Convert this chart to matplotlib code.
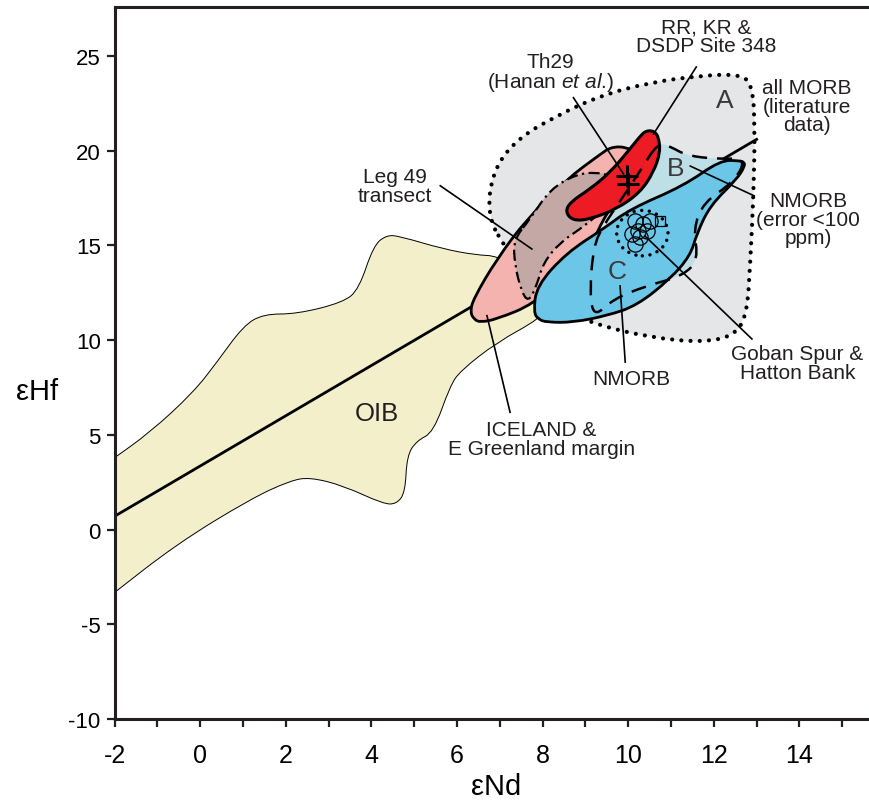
import matplotlib
matplotlib.use('Agg')
import matplotlib.pyplot as plt
from matplotlib.patches import PathPatch, Ellipse
from matplotlib.path import Path

plt.rcParams['font.family'] = ['Liberation Sans', 'DejaVu Sans']
plt.rcParams['axes.unicode_minus'] = False
plt.rcParams['mathtext.fontset'] = 'custom'
plt.rcParams['mathtext.rm'] = 'Liberation Sans'
plt.rcParams['mathtext.it'] = 'Liberation Sans:italic'

# outlines of the fields, (eNd, eHf)
oib_nd = [-2.1, -1.17, -0.16, 0.39, 1.01, 1.48, 2.26, 3.35, 3.71, 4.05, 4.36, 4.67, 5.68, 6.46, 6.95,
          7.6, 8.2, 7.95, 6.93, 6.08, 5.84, 5.45, 5.06, 4.83, 4.79, 4.59, 4.28, 3.35, 2.57, 2.1, 1.17, -0.55,
          -2.1, -3.0, -3.0]
oib_hf = [3.63, 5.13, 7.24, 8.83, 10.76, 11.38, 11.38, 12.0, 12.7, 15.0, 15.55, 15.48, 14.81, 14.49, 14.45,
          13.5, 12.0, 11.15, 9.88, 8.38, 7.59, 5.13, 4.69, 3.9, 1.96, 1.35, 1.35, 2.31, 2.76, 2.58, 1.61, -0.77,
          -3.5, -5.08, 2.19]

morb_nd = [6.7, 6.85, 7.4, 8.33, 9.34, 10.5, 11.68, 12.6, 12.9, 12.96, 12.93, 12.85, 12.77, 12.46,
           11.68, 10.51, 9.34, 8.8, 8.0, 7.08]
morb_hf = [16.7, 19.0, 20.62, 21.85, 22.9, 23.6, 23.96, 24.05, 23.5, 21.3, 17.8, 14.0, 11.29, 10.2,
           9.88, 10.15, 10.76, 11.29, 12.5, 14.98]

ice_nd = [6.31, 6.4, 6.54, 6.93, 7.79, 8.6, 9.2, 9.4, 9.6, 10.3, 10.15, 9.95, 9.6, 9.34, 8.57, 7.63, 6.93, 6.38]
ice_hf = [11.47, 11.1, 10.94, 11.11, 11.9, 13.6, 15.3, 16.3, 17.0, 18.8, 19.9, 20.2, 20.2, 19.8, 18.51, 16.39, 14.28, 12.17]

leg_nd = [7.32, 7.35, 7.5, 7.67, 7.86, 8.02, 8.41, 8.88, 9.27, 9.6, 9.7, 9.58, 9.27, 8.8, 8.18, 7.71]
leg_hf = [15.3, 14.0, 12.6, 12.0, 12.87, 14.1, 15.16, 15.87, 16.57, 17.2, 18.5, 18.68, 18.86, 18.77, 17.98, 16.4]

b_nd = [10.7, 11.0, 11.37, 12.07, 12.77, 12.46, 11.76, 11.52, 11.64, 11.29, 10.43, 9.65, 9.2,
        9.1, 9.19, 9.42, 9.8, 10.3]
b_hf = [20.45, 20.2, 19.74, 19.56, 19.6, 18.33, 17.28, 15.87, 14.28, 13.4, 12.87, 12.17, 11.2,
        12.5, 14.98, 16.04, 17.3, 19.0]

c_nd = [7.79, 7.9, 8.1, 8.72, 9.5, 10.2, 10.98, 11.45, 11.6, 11.91, 12.54, 12.73, 12.7, 12.61, 12.15, 11.3,
        10.04, 9.42, 8.57, 7.86]
c_hf = [11.47, 11.1, 10.94, 10.94, 11.29, 11.82, 13.23, 14.46, 15.6, 17.1, 18.5, 19.21, 19.4, 19.47, 19.5, 18.15,
        16.92, 15.87, 14.63, 12.87]

red_nd = [10.51, 10.62, 10.71, 10.75, 10.59, 10.28, 9.73, 9.11, 8.72, 8.53, 8.64, 9.11, 9.58, 10.04, 10.32, 10.42]
red_hf = [21.06, 21.0, 20.71, 19.92, 18.86, 17.8, 16.92, 16.39, 16.3, 16.75, 17.28, 17.98, 18.86, 20.09, 20.88, 21.03]

# mantle array
array_nd = [-2, 13]
array_hf = [0.7, 20.6]

# Th29 crosses
th29_nd = [9.97, 10.0]
th29_hf = [18.68, 18.24]

# Goban Spur & Hatton Bank samples
gob_nd = [10.16, 10.35, 10.24, 10.08, 10.28, 10.16, 10.43, 10.51]
gob_hf = [16.3, 16.13, 15.78, 15.6, 15.43, 15.07, 15.78, 16.3]
sq_nd = [10.75]
sq_hf = [16.3]

xticks = list(range(-2, 15, 2))
yticks = list(range(-10, 26, 5))


def smooth(ax, xs, ys, **kw):
    # closed outline drawn as quadratic bezier through edge midpoints
    pts = list(zip(xs, ys))
    n = len(pts)
    mids = [((pts[i][0] + pts[(i + 1) % n][0]) / 2, (pts[i][1] + pts[(i + 1) % n][1]) / 2) for i in range(n)]
    verts = [mids[-1]]
    codes = [Path.MOVETO]
    for i in range(n):
        verts += [pts[i], mids[i]]
        codes += [Path.CURVE3, Path.CURVE3]
    verts.append(mids[-1])
    codes.append(Path.CLOSEPOLY)
    p = PathPatch(Path(verts, codes), joinstyle='round', **kw)
    ax.add_patch(p)
    return p


def main():
    fig = plt.figure(figsize=(8.69, 8.03), dpi=100)
    ax = fig.add_axes([0.1318, 0.1034, 0.8783, 0.8867])
    ax.set_xlim(-2, 15.83)
    ax.set_ylim(-10, 27.59)

    smooth(ax, oib_nd, oib_hf, facecolor='#F3EFCB', edgecolor='black', lw=0.7, zorder=1)
    smooth(ax, morb_nd, morb_hf, facecolor='#E5E6E8', edgecolor='none', zorder=1.5)
    smooth(ax, morb_nd, morb_hf, facecolor='none', edgecolor='black', lw=3,
           linestyle=(0, (0.01, 2.2)), capstyle='round', zorder=1.6)
    ax.plot(array_nd, array_hf, color='black', lw=2, zorder=2)
    smooth(ax, ice_nd, ice_hf, facecolor='#F4B3AE', edgecolor='black', lw=2, zorder=3)
    smooth(ax, leg_nd, leg_hf, facecolor='#C4A8A6', edgecolor='black', lw=1.6,
           linestyle=(0, (5, 2, 1, 2)), zorder=4)
    smooth(ax, b_nd, b_hf, facecolor='#BFDFE7', edgecolor='none', zorder=5)
    smooth(ax, c_nd, c_hf, facecolor='#6BC6E8', edgecolor='black', lw=2, zorder=6)
    smooth(ax, red_nd, red_hf, facecolor='#ED1C24', edgecolor='black', lw=2.2, zorder=7)
    smooth(ax, b_nd, b_hf, facecolor='none', edgecolor='black', lw=1.8,
           linestyle=(0, (6, 4)), zorder=8)

    ax.plot(th29_nd, th29_hf, '+', color='black', ms=16, mew=2.2, zorder=9)
    ax.plot(gob_nd, gob_hf, 'o', mfc='none', mec='black', ms=11, mew=0.9, zorder=9)
    ax.plot(sq_nd, sq_hf, 's', mfc='none', mec='black', ms=7, mew=0.9, zorder=9)
    ax.add_patch(Ellipse((10.33, 15.65), 1.2, 2.4, fill=False, edgecolor='black', lw=2.5,
                         linestyle=(0, (0.01, 2.2)), capstyle='round', zorder=9))

    # pointer lines
    ptr = [((11.59, 24.42), (10.59, 20.88)),
           ((8.72, 22.8), (9.89, 18.77)),
           ((11.45, 19.19), (12.94, 17.62)),
           ((5.61, 18.15), (7.75, 14.81)),
           ((6.70, 11.29), (7.24, 6.19)),
           ((9.93, 8.84), (9.81, 12.86)),
           ((10.39, 15.5), (12.89, 10.06))]
    for a, b in ptr:
        ax.plot([a[0], b[0]], [a[1], b[1]], color='black', lw=1.2, zorder=10)

    fs = 15
    kw = dict(ha='center', va='center', fontsize=fs, linespacing=0.95, color='#231F20', zorder=11)
    ax.text(11.83, 26.06, 'RR, KR &\nDSDP Site 348', **kw)
    ax.text(8.18, 24.72, 'Th29', **kw)
    ax.text(8.18, 23.65, '(Hanan $\\mathit{et\\ al}$.)', **kw)
    ax.text(14.18, 22.36, 'all MORB\n(literature\ndata)', **kw)
    ax.text(14.2, 16.39, 'NMORB\n(error <100\nppm)', **kw)
    ax.text(4.55, 18.14, 'Leg 49\ntransect', **kw)
    ax.text(7.97, 4.78, 'ICELAND &\nE Greenland margin', **kw)
    ax.text(10.07, 7.95, 'NMORB', **kw)
    ax.text(13.95, 8.79, 'Goban Spur &\nHatton Bank', **kw)
    ax.text(4.13, 6.15, 'OIB', ha='center', va='center', fontsize=18.5, color='#231F20', zorder=11)
    for s, x, y in [('A', 12.26, 22.68), ('B', 11.1, 19.09), ('C', 9.74, 13.65)]:
        ax.text(x, y, s, ha='center', va='center', fontsize=19, color='#3A3A3A', zorder=11)

    ax.spines['right'].set_visible(False)
    for sp in ['left', 'bottom', 'top']:
        ax.spines[sp].set_linewidth(2.2)
        ax.spines[sp].set_color('#231F20')

    ax.set_xticks(xticks)
    ax.set_xticks(list(range(-2, 16)), minor=True)
    ax.set_yticks(yticks)
    ax.tick_params(axis='both', which='both', direction='out', width=1.6, length=6, color='#231F20')
    ax.tick_params(axis='x', pad=11, labelsize=18)
    ax.tick_params(axis='y', pad=4, labelsize=16)

    ax.set_xlabel('εNd', fontsize=21, labelpad=4)
    fig.text(37 / 869, 1 - 392 / 803, 'εHf', fontsize=21, ha='center', va='center')

    fig.savefig('out.png', dpi=100)
    return 0


if __name__ == '__main__':
    main()
